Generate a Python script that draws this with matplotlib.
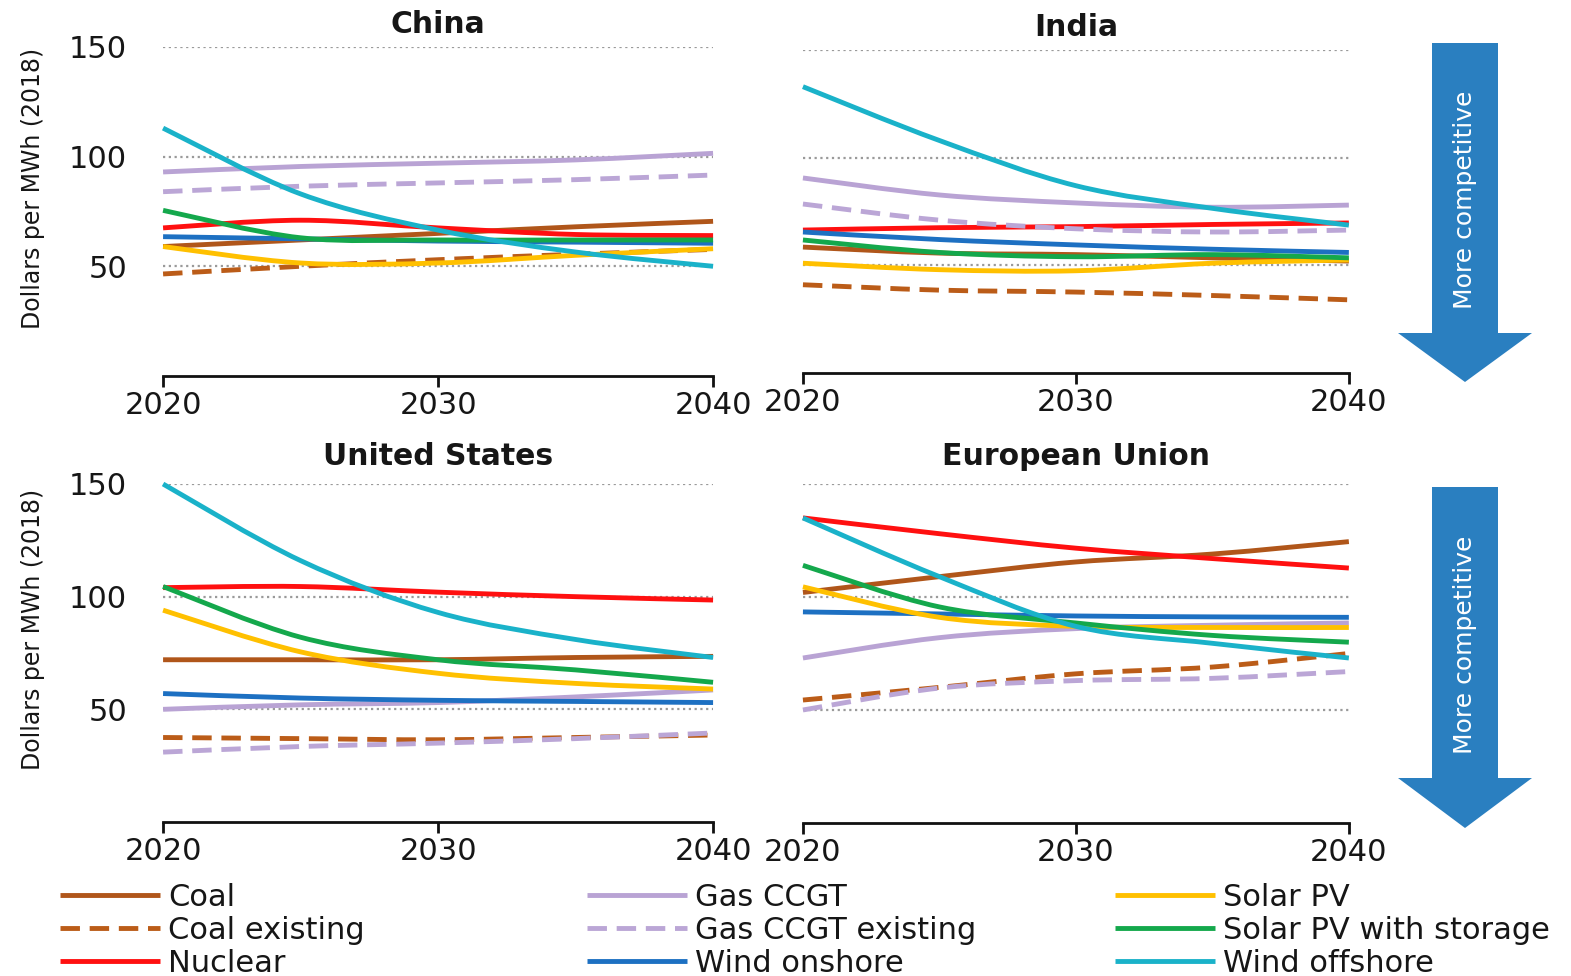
import numpy as np
import matplotlib
matplotlib.use("Agg")
import matplotlib.pyplot as plt
from matplotlib.path import Path
from matplotlib.patches import PathPatch, Polygon
from matplotlib.lines import Line2D

# levelised costs, dollars per MWh (2018)
years = [2020, 2025, 2030, 2035, 2040]

techs = ["Coal", "Coal existing", "Nuclear", "Gas CCGT", "Gas CCGT existing",
         "Wind onshore", "Solar PV", "Solar PV with storage", "Wind offshore"]

china = {
    "Coal": [59, 62, 65, 68, 70.5],
    "Coal existing": [46.5, 50, 53, 55.5, 57.7],
    "Nuclear": [67.5, 71, 67.5, 64.5, 64],
    "Gas CCGT": [93, 95.5, 97, 98.5, 101.5],
    "Gas CCGT existing": [84, 86.5, 88, 89.5, 91.6],
    "Wind onshore": [63.5, 62.5, 61.5, 61, 60.5],
    "Solar PV": [59, 51.5, 51.5, 55, 58],
    "Solar PV with storage": [75.5, 63, 62, 62, 62],
    "Wind offshore": [113, 83, 66.5, 56.5, 50],
}
india = {
    "Coal": [58.5, 55.7, 55, 53.5, 52],
    "Coal existing": [41, 38.5, 37.6, 36, 34],
    "Nuclear": [66.4, 67.5, 68, 69, 69.7],
    "Gas CCGT": [90.6, 82.7, 79, 77, 78],
    "Gas CCGT existing": [78.5, 71, 67, 65.5, 66.4],
    "Wind onshore": [65.5, 62, 59.5, 57.5, 56],
    "Solar PV": [51, 48, 47.5, 51, 52.5],
    "Solar PV with storage": [61.8, 56, 54, 55, 53.5],
    "Wind offshore": [133, 108, 87, 76.5, 68.7],
}
united_states = {
    "Coal": [72, 72, 72, 73, 73.5],
    "Coal existing": [37.5, 37, 36.5, 37.5, 38.6],
    "Nuclear": [104, 104.5, 102, 100, 98.5],
    "Gas CCGT": [50, 52, 53, 55.5, 58.6],
    "Gas CCGT existing": [31, 33.5, 35, 37, 39.5],
    "Wind onshore": [57, 55, 54, 53.5, 53],
    "Solar PV": [94, 75.5, 66, 61.5, 59],
    "Solar PV with storage": [104.5, 82, 72, 67.5, 62],
    "Wind offshore": [150, 116, 93, 81, 73],
}
european_union = {
    "Coal": [102, 109, 115.5, 119, 124.5],
    "Coal existing": [54.4, 60, 66, 69, 75],
    "Nuclear": [135, 128, 121.6, 117, 112.8],
    "Gas CCGT": [73, 82, 86, 87.5, 88.5],
    "Gas CCGT existing": [50, 59.7, 63, 64, 67],
    "Wind onshore": [93.4, 92.5, 91.6, 91.2, 91],
    "Solar PV": [104.5, 91, 87, 86.5, 86.5],
    "Solar PV with storage": [114, 95.6, 88.5, 83, 80],
    "Wind offshore": [135, 109, 87, 79.5, 73],
}

colors = {
    "Coal": "#b0561a",
    "Coal existing": "#bb5c18",
    "Nuclear": "#ff1010",
    "Gas CCGT": "#b9a3d4",
    "Gas CCGT existing": "#bba6d6",
    "Wind onshore": "#1d70c2",
    "Solar PV": "#ffc000",
    "Solar PV with storage": "#14a84c",
    "Wind offshore": "#1ab2c9",
}
dashed = {"Coal existing", "Gas CCGT existing"}

TEXT = "#161616"
ARROW = "#2a7fc0"
LW = 3.5


def smooth_path(x, y):
    # bezier curve through the points, like a smoothed spreadsheet line
    pts = np.column_stack([x, y]).astype(float)
    n = len(pts)
    verts = [pts[0]]
    codes = [Path.MOVETO]
    for i in range(n - 1):
        p0 = pts[max(i - 1, 0)]
        p1 = pts[i]
        p2 = pts[i + 1]
        p3 = pts[min(i + 2, n - 1)]
        verts += [p1 + (p2 - p0) / 6, p2 - (p3 - p1) / 6, p2]
        codes += [Path.CURVE4] * 3
    return Path(verts, codes)


def draw_panel(ax, title, data, left, title_pad):
    for t in techs:
        ls = (0, (4, 2)) if t in dashed else "-"
        patch = PathPatch(smooth_path(years, data[t]), fill=False,
                          edgecolor=colors[t], lw=LW, linestyle=ls,
                          capstyle="butt", zorder=3, clip_on=False)
        ax.add_patch(patch)
    ax.set_xlim(2020, 2040)
    ax.set_ylim(0, 150)
    ax.set_xticks([2020, 2030, 2040])
    ax.set_yticks([50, 100, 150])
    ax.yaxis.grid(True, color="#9a9a9a", lw=1.6, linestyle=(0, (1, 1.6)))
    ax.set_axisbelow(True)
    for s in ["left", "top", "right"]:
        ax.spines[s].set_visible(False)
    ax.spines["bottom"].set_linewidth(2)
    ax.spines["bottom"].set_color("#111111")
    ax.tick_params(axis="x", direction="out", length=8, width=2,
                   labelsize=22, pad=3, colors="#111111", labelcolor=TEXT)
    ax.tick_params(axis="y", length=0, labelsize=22, pad=26, labelcolor=TEXT)
    if left:
        ax.set_ylabel("Dollars per MWh (2018)", fontsize=17, color=TEXT)
        ax.yaxis.set_label_coords(-0.215, 0.57)
    else:
        ax.set_yticklabels([])
    ax.set_title(title, fontsize=21.5, fontweight="bold", color=TEXT,
                 pad=title_pad)


def draw_arrow(fig, top, base, tip, text_y):
    cx, shaft, head = 1465 / 1571, 33 / 1571, 67 / 1571
    top, base, tip, text_y = [1 - v / 976 for v in (top, base, tip, text_y)]
    pts = [(cx - shaft, top), (cx + shaft, top), (cx + shaft, base),
           (cx + head, base), (cx, tip), (cx - head, base), (cx - shaft, base)]
    fig.patches.append(Polygon(pts, closed=True, transform=fig.transFigure,
                               facecolor=ARROW, edgecolor="none"))
    fig.text(cx, text_y, "More competitive", rotation=90, color="white",
             fontsize=18, ha="center", va="center")


fig = plt.figure(figsize=(15.71, 9.76), dpi=100)

ax_cn = fig.add_axes([0.1038, 0.6148, 0.3501, 0.3371])
ax_in = fig.add_axes([0.5111, 0.6178, 0.3475, 0.3309])
ax_us = fig.add_axes([0.1038, 0.1578, 0.3501, 0.3463])
ax_eu = fig.add_axes([0.5111, 0.1568, 0.3475, 0.3473])

draw_panel(ax_cn, "China", china, True, 10)
draw_panel(ax_in, "India", india, False, 10)
draw_panel(ax_us, "United States", united_states, True, 14)
draw_panel(ax_eu, "European Union", european_union, False, 14)

draw_arrow(fig, 43, 333, 382, 200)
draw_arrow(fig, 487, 778, 828, 645)

# legend in three columns along the bottom
handles = {t: Line2D([], [], color=colors[t], lw=LW,
                     linestyle=(0, (4, 2)) if t in dashed else "-",
                     solid_capstyle="butt", dash_capstyle="butt")
           for t in techs}
columns = [(["Coal", "Coal existing", "Nuclear"], 60),
           (["Gas CCGT", "Gas CCGT existing", "Wind onshore"], 587),
           (["Solar PV", "Solar PV with storage", "Wind offshore"], 1115)]
for names, x0 in columns:
    leg = fig.legend([handles[n] for n in names], names, loc="upper left",
                     bbox_to_anchor=(x0 / 1571, 1 - 883 / 976), frameon=False,
                     fontsize=22, handlelength=3.27, handletextpad=0.26,
                     labelspacing=0.13, borderpad=0, borderaxespad=0)
    for txt in leg.get_texts():
        txt.set_color(TEXT)

fig.savefig("out.png", dpi=100)
